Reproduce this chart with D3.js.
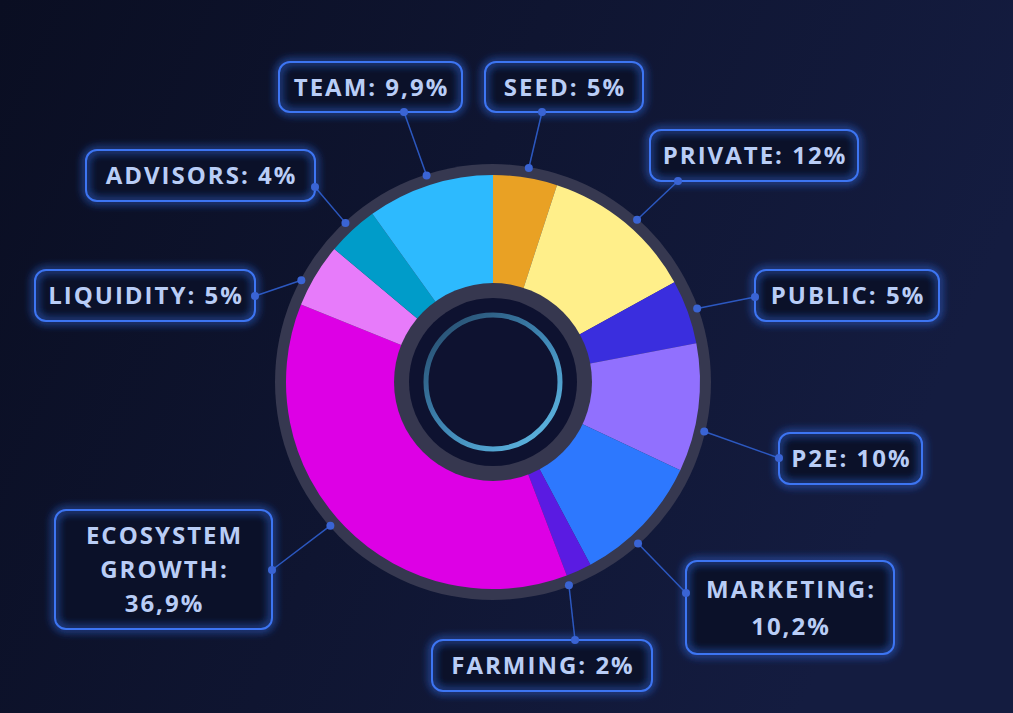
<!DOCTYPE html>
<html>
<head>
<meta charset="utf-8">
<script src="https://cdn.jsdelivr.net/npm/d3@7"></script>
<style>
  html, body { margin: 0; padding: 0; background: #0b1024; }
  svg { display: block; }
</style>
</head>
<body>
<div id="chart"></div>
<script>
// ---- data ----
const categories = ["SEED", "PRIVATE", "PUBLIC", "P2E", "MARKETING", "FARMING", "ECOSYSTEM GROWTH", "LIQUIDITY", "ADVISORS", "TEAM"];
const values = [5, 12, 5, 10, 10.2, 2, 36.9, 5, 4, 9.9];
const valueLabels = ["5%", "12%", "5%", "10%", "10,2%", "2%", "36,9%", "5%", "4%", "9,9%"];
const colors = ["#E9A124", "#FFEF8A", "#3A2EDE", "#9170FE", "#2D78FE", "#5A1BE2", "#DD00E5", "#E77BFA", "#009CC9", "#2DBAFE"];

// ---- layout (label boxes; off = connector angle nudge in degrees) ----
const boxes = [
  { x: 485, y: 62,  w: 158, h: 50,  lines: 1, ax: 542, ay: 112, off: 0.5 },
  { x: 650, y: 130, w: 208, h: 51,  lines: 1, ax: 678, ay: 181, off: 2 },
  { x: 755, y: 270, w: 184, h: 51,  lines: 1, ax: 755, ay: 297, off: 0 },
  { x: 779, y: 433, w: 143, h: 51,  lines: 1, ax: 779, ay: 458, off: 6 },
  { x: 686, y: 561, w: 208, h: 93,  lines: 2, ax: 686, ay: 593, off: 4.5 },
  { x: 432, y: 640, w: 220, h: 51,  lines: 1, ax: 575, ay: 640, off: 4 },
  { x: 55,  y: 510, w: 217, h: 119, lines: 3, ax: 272, ay: 570, off: 3 },
  { x: 35,  y: 270, w: 220, h: 51,  lines: 1, ax: 255, ay: 296, off: -3 },
  { x: 86,  y: 150, w: 229, h: 51,  lines: 1, ax: 315, ay: 187, off: 0 },
  { x: 279, y: 62,  w: 183, h: 50,  lines: 1, ax: 404, ay: 112, off: 0 }
];

const W = 1013, H = 713;
const cx = 493, cy = 382;
const R_ring = 218, R_pie = 207, R_hub = 99, R_hubInner = 84, R_glow = 67;

const svg = d3.select("#chart").append("svg").attr("width", W).attr("height", H);
const defs = svg.append("defs");

const bg = defs.append("linearGradient").attr("id", "bg").attr("x1", 0).attr("y1", 0).attr("x2", 1).attr("y2", 0.3);
bg.append("stop").attr("offset", 0).attr("stop-color", "#0a0e22");
bg.append("stop").attr("offset", 1).attr("stop-color", "#141c40");

const glowGrad = defs.append("linearGradient").attr("id", "glowGrad").attr("x1", 0.15).attr("y1", 0.1).attr("x2", 0.85).attr("y2", 0.9);
glowGrad.append("stop").attr("offset", 0).attr("stop-color", "#2a5578");
glowGrad.append("stop").attr("offset", 0.5).attr("stop-color", "#3f86b4");
glowGrad.append("stop").attr("offset", 1).attr("stop-color", "#5ab0dc");

const f = defs.append("filter").attr("id", "glow")
  .attr("filterUnits", "userSpaceOnUse").attr("x", 0).attr("y", 0).attr("width", W).attr("height", H);
f.append("feGaussianBlur").attr("in", "SourceGraphic").attr("stdDeviation", 5).attr("result", "b");
const fm = f.append("feMerge");
fm.append("feMergeNode").attr("in", "b");
fm.append("feMergeNode").attr("in", "b");
fm.append("feMergeNode").attr("in", "SourceGraphic");

svg.append("rect").attr("width", W).attr("height", H).attr("fill", "url(#bg)");

const g = svg.append("g").attr("transform", `translate(${cx},${cy})`);

// outer ring
g.append("circle").attr("r", R_ring).attr("fill", "#363850");

const pie = d3.pie().sort(null).value(d => d)(values);
const arc = d3.arc().innerRadius(R_hub - 4).outerRadius(R_pie);

g.selectAll("path.slice").data(pie).join("path")
  .attr("class", "slice")
  .attr("d", arc)
  .attr("fill", (d, i) => colors[i]);

// hub
g.append("circle").attr("r", R_hub).attr("fill", "#36374f");
g.append("circle").attr("r", R_hubInner).attr("fill", "#0e1230");
g.append("circle").attr("r", R_glow).attr("fill", "none").attr("stroke", "url(#glowGrad)").attr("stroke-width", 5);

// connectors
const R_dot = 217;
const conn = svg.append("g");
pie.forEach((d, i) => {
  const b = boxes[i];
  const a = (d.startAngle + d.endAngle) / 2 + b.off * Math.PI / 180;
  const px = cx + R_dot * Math.sin(a), py = cy - R_dot * Math.cos(a);
  conn.append("line").attr("x1", px).attr("y1", py).attr("x2", b.ax).attr("y2", b.ay)
    .attr("stroke", "#2f5fcf").attr("stroke-width", 1.5).attr("opacity", 0.9);
  conn.append("circle").attr("cx", px).attr("cy", py).attr("r", 4).attr("fill", "#3a64d4");
});

// label boxes
const lab = svg.append("g");
categories.forEach((c, i) => {
  const b = boxes[i];
  lab.append("rect").attr("x", b.x).attr("y", b.y).attr("width", b.w).attr("height", b.h)
    .attr("rx", 11).attr("fill", "#0b1129");
  lab.append("rect").attr("x", b.x).attr("y", b.y).attr("width", b.w).attr("height", b.h)
    .attr("rx", 11).attr("fill", "none")
    .attr("stroke", "#3c74f2").attr("stroke-width", 2).attr("filter", "url(#glow)");
  lab.append("circle").attr("cx", b.ax).attr("cy", b.ay).attr("r", 4).attr("fill", "#3a64d4");
  let lines;
  if (b.lines === 1) lines = [c + ": " + valueLabels[i]];
  else if (b.lines === 2) lines = [c + ":", valueLabels[i]];
  else { const parts = c.split(" "); lines = [parts[0], parts[1] + ":", valueLabels[i]]; }
  const lh = b.lines === 2 ? 37 : 34;
  const y0 = b.y + b.h / 2 - (lines.length - 1) * lh / 2;
  const t = lab.append("text")
    .attr("text-anchor", "middle")
    .attr("font-family", "'Open Sans', 'DejaVu Sans', sans-serif")
    .attr("font-weight", 700)
    .attr("font-size", 24)
    .attr("letter-spacing", 2)
    .attr("fill", "#b9cdf6");
  lines.forEach((ln, k) => {
    t.append("tspan").attr("x", b.x + b.w / 2 + 1).attr("y", y0 + k * lh).attr("dy", "0.36em").text(ln);
  });
});
</script>
</body>
</html>
